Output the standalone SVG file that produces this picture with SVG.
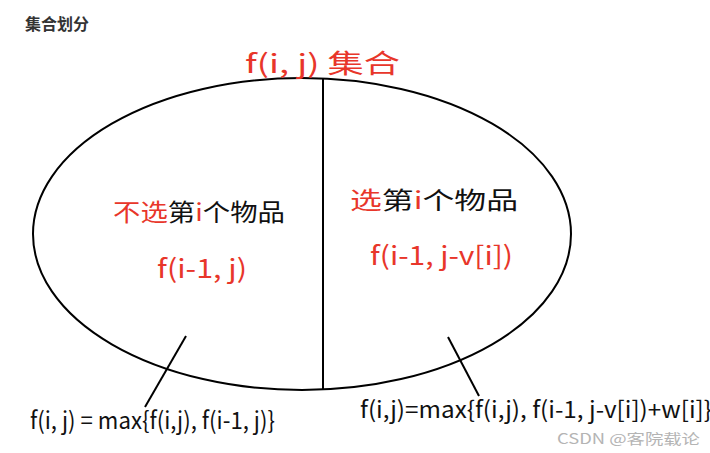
<svg xmlns="http://www.w3.org/2000/svg" width="710" height="453" viewBox="0 0 710 453">
<style>
.hand{font-family:"Noto Sans CJK SC","Noto Sans",sans-serif;}
.red{fill:#e8362a;}
.blk{fill:#111;}
.ln{stroke:#000;stroke-width:2;fill:none;}
</style>
<rect width="710" height="453" fill="#fff"/>
<text x="25" y="30" font-family="'Noto Sans CJK SC',sans-serif" font-size="16" font-weight="bold" fill="#333">集合划分</text>
<g id="set">
<ellipse class="ln" cx="302" cy="234" rx="269" ry="156"/>
<line class="ln" x1="323" y1="79" x2="323" y2="390"/>
</g>
<g id="title">
<text class="hand red" x="245" y="73" font-size="26" textLength="155" lengthAdjust="spacingAndGlyphs">f(i, j) 集合</text>
</g>
<g id="left">
<text class="hand" x="113" y="221" font-size="24" textLength="172" lengthAdjust="spacingAndGlyphs"><tspan class="red">不选</tspan><tspan class="blk">第</tspan><tspan class="red">i</tspan><tspan class="blk">个物品</tspan></text>
<text class="hand red" x="157" y="278" font-size="26" textLength="90" lengthAdjust="spacingAndGlyphs">f(i-1, j)</text>
</g>
<g id="right">
<text class="hand" x="350" y="209" font-size="24" textLength="168" lengthAdjust="spacingAndGlyphs"><tspan class="red">选</tspan><tspan class="blk">第</tspan><tspan class="red">i</tspan><tspan class="blk">个物品</tspan></text>
<text class="hand red" x="370" y="265" font-size="26" textLength="143" lengthAdjust="spacingAndGlyphs">f(i-1, j-v[i])</text>
</g>
<g id="connectors">
<line class="ln" x1="186" y1="336" x2="145" y2="407"/>
<line class="ln" x1="448" y1="337" x2="479" y2="396"/>
</g>
<g id="eq-left">
<text class="hand blk" x="30" y="429" font-size="24" textLength="245" lengthAdjust="spacingAndGlyphs">f(i, j) = max{f(i,j), f(i-1, j)}</text>
</g>
<g id="eq-right">
<text class="hand blk" x="360" y="418" font-size="23" textLength="352" lengthAdjust="spacingAndGlyphs">f(i,j)=max{f(i,j), f(i-1, j-v[i])+w[i]}</text>
</g>
<text x="557" y="444" font-family="'Noto Sans CJK SC',sans-serif" font-size="14" fill="#b4b4b4" textLength="143" lengthAdjust="spacingAndGlyphs">CSDN @客院载论</text>
</svg>
